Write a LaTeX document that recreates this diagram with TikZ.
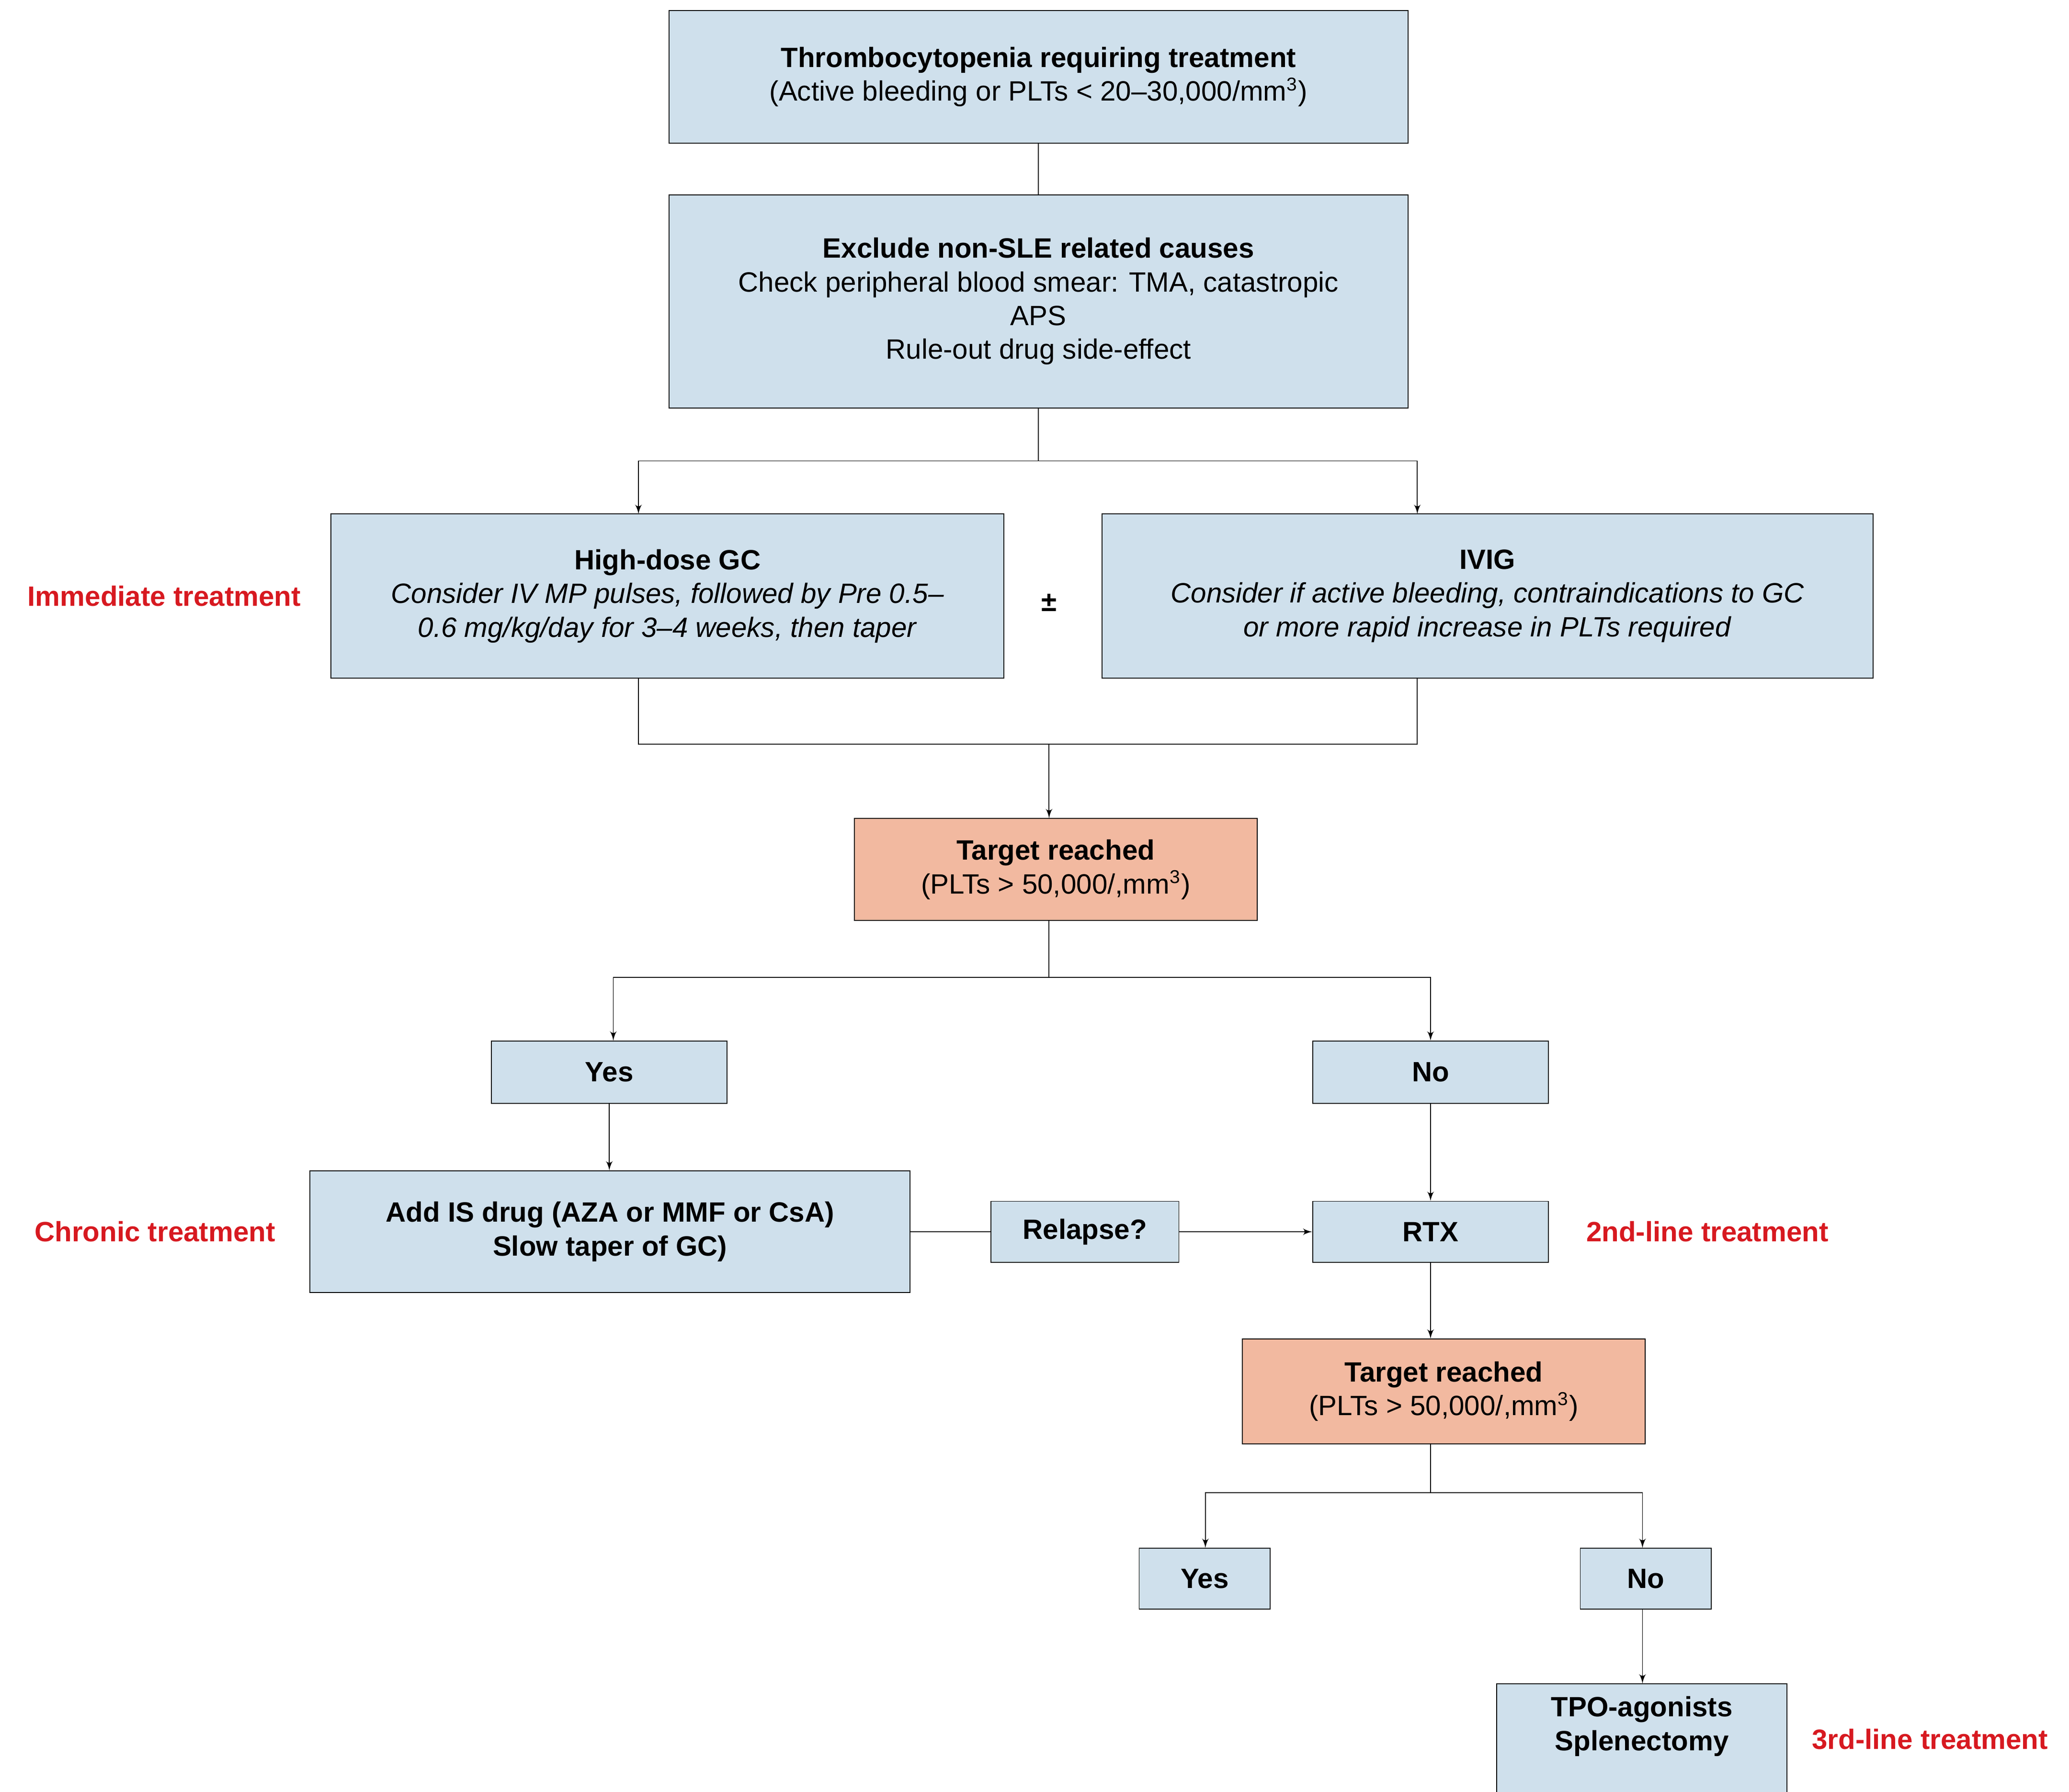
\documentclass[tikz,border=0pt]{standalone}
\usepackage{fontspec}
\setmainfont{Liberation Sans}
\usetikzlibrary{arrows,calc,positioning}
\definecolor{boxblue}{HTML}{CFE0EC}
\definecolor{boxsalmon}{HTML}{F2B9A0}
\definecolor{labred}{HTML}{D71920}
\tikzset{every picture/.style={
  >=latex'                      % LaTeX style arrows.
  }
}

\begin{document}
\begin{tikzpicture}[
    x=0.02cm, y=-0.02cm,
    font=\fontsize{12}{14.5}\selectfont,
    box/.style={
      draw,
      fill=boxblue,
      align=center,
      inner sep=2pt
    },
    target/.style={
      box,
      fill=boxsalmon
    },
    wh/.style 2 args={
      minimum width=#1*0.02cm,
      minimum height=#2*0.02cm
    },
    side/.style={
      text=labred,
      font=\fontsize{12}{14.5}\selectfont\bfseries
    }]

    \clip (0,0) rectangle (1562,1353);

    % Main column.
    \node[box,wh={558}{100}] (thromb) at (784,58)
      {\textbf{Thrombocytopenia requiring treatment}\\
       (Active bleeding or PLTs < 20--30,000/mm\textsuperscript{3})};
    \node[box,wh={558}{161}] (excl) at (784,227.5)
      {\textbf{Exclude non-SLE related causes}\\
       Check peripheral blood smear: TMA, catastropic\\ APS\\
       Rule-out drug side-effect};
    \node[box,wh={508}{124}] (gc) at (504,450)
      {\textbf{High-dose GC}\\
       \textit{Consider IV MP pulses, followed by Pre 0.5--}\\
       \textit{0.6 mg/kg/day for 3--4 weeks, then taper}};
    \node[box,wh={582}{124}] (ivig) at (1123,450)
      {\textbf{IVIG}\\
       \textit{Consider if active bleeding, contraindications to GC}\\
       \textit{or more rapid increase in PLTs required}};
    \node (pm) at (792,455) {\textbf{\textpm}};
    \node[target,wh={304}{77}] (targ1) at (797,656.5)
      {\textbf{Target reached}\\(PLTs > 50,000/,mm\textsuperscript{3})};

    % First decision.
    \node[box,wh={178}{47}] (yes1) at (460,809.5) {\textbf{Yes}};
    \node[box,wh={178}{47}] (no1) at (1080,809.5) {\textbf{No}};
    \node[box,wh={453}{92}] (addis) at (460.5,930)
      {\textbf{Add IS drug (AZA or MMF or CsA)}\\\textbf{Slow taper of GC)}};
    \node[box,wh={142}{46}] (relapse) at (819,930) {\textbf{Relapse?}};
    \node[box,wh={178}{46}] (rtx) at (1080,930) {\textbf{RTX}};
    \node[target,wh={304}{79}] (targ2) at (1090,1050.5)
      {\textbf{Target reached}\\(PLTs > 50,000/,mm\textsuperscript{3})};

    % Second decision.
    \node[box,wh={99}{46}] (yes2) at (909.5,1192) {\textbf{Yes}};
    \node[box,wh={99}{46}] (no2) at (1242.5,1192) {\textbf{No}};
    \node[box,wh={219}{110},anchor=north] (tpo) at (1239.5,1271)
      {\textbf{TPO-agonists}\\\textbf{Splenectomy}\\[14pt]};

    % Side labels.
    \node[side] (limm) at (124,450) {Immediate treatment};
    \node[side] (lchr) at (117,930) {Chronic treatment};
    \node[side] (l2nd) at (1289,930) {2nd-line treatment};
    \node[side] (l3rd) at (1457,1313) {3rd-line treatment};

    % Connectors.
    \draw (thromb.south) -- (excl.north);
    \coordinate (s1) at (784,348);
    \draw (excl.south) -- (s1);
    \draw[->] (s1) -| (482,388);
    \draw[->] (s1) -| (1070,388);
    \draw (482,512) |- (792,562) coordinate (j1) -| (1070,512);
    \draw[->] (j1) -- (targ1.north -| j1);
    \coordinate (s2) at (792,738);
    \draw (targ1.south -| s2) -- (s2);
    \draw[->] (s2) -| (yes1.north -| 463,0);
    \draw[->] (s2) -| (no1.north);
    \draw[->] (yes1.south) -- (addis.north -| yes1.south);
    \draw[->] (no1.south) -- (rtx.north);
    \draw (addis.east) -- (relapse.west);
    \draw[->] (relapse.east) -- (rtx.west);
    \draw[->] (rtx.south) -- (targ2.north -| rtx.south);
    \coordinate (s3) at (1080,1127);
    \draw (targ2.south -| s3) -- (s3);
    \draw[->] (s3) -| (yes2.north -| 910,0);
    \draw[->] (s3) -| (no2.north -| 1240,0);
    \draw[->] (no2.south -| 1240,0) -- (tpo.north -| 1240,0);

  \end{tikzpicture}
\end{document}
